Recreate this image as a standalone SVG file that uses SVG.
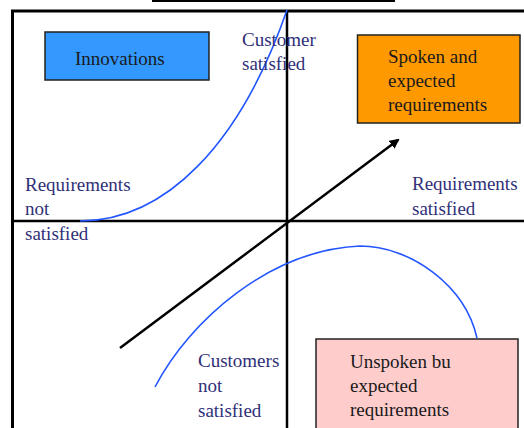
<svg xmlns="http://www.w3.org/2000/svg" width="524" height="428" viewBox="0 0 524 428">
<style>
.frame{stroke:#000;stroke-width:3;fill:none}
.axis{stroke:#000;stroke-width:2.5;fill:none}
.curve{stroke:#2255ff;stroke-width:1.6;fill:none}
.box{stroke:#222;stroke-width:1.5}
.lbl{font-family:"Liberation Serif",serif;font-size:19px;fill:#303078}
.btxt{font-family:"Liberation Serif",serif;font-size:19px;fill:#1a1a1a}
</style>
<defs>
<marker id="ah" markerWidth="10" markerHeight="10" refX="8" refY="5" orient="auto" markerUnits="userSpaceOnUse">
<path d="M0,0 L10,5 L0,10 Z" fill="#000"/>
</marker>
</defs>
<rect width="524" height="428" fill="#fff"/>
<line x1="152" y1="0.5" x2="395" y2="0.5" stroke="#000" stroke-width="3"/>
<path class="frame" d="M12.5,428 V11 H524"/>
<g id="connectors">
<line class="axis" x1="12" y1="221" x2="524" y2="221"/>
<line class="axis" x1="287" y1="11" x2="287" y2="428"/>
<line x1="120" y1="348" x2="398" y2="140" stroke="#000" stroke-width="2.5" marker-end="url(#ah)"/>
<path class="curve" d="M80,221 C165,221 240,145 287,10"/>
<path class="curve" d="M155,387 C190,320 270,250 360,246 C410,246 465,285 477,338"/>
</g>
<g id="innovations">
<rect class="box" x="45" y="32" width="164" height="48" fill="#3399ff"/>
<text class="btxt" x="75" y="65">Innovations</text>
</g>
<g id="spoken">
<rect class="box" x="357.5" y="35" width="162.5" height="88" fill="#ff9900"/>
<text class="btxt" x="388" y="63">Spoken and</text>
<text class="btxt" x="388" y="87">expected</text>
<text class="btxt" x="388" y="111">requirements</text>
</g>
<g id="unspoken">
<rect class="box" x="316" y="339" width="202" height="95" fill="#ffcccc"/>
<text class="btxt" x="350" y="368">Unspoken bu</text>
<text class="btxt" x="350" y="392">expected</text>
<text class="btxt" x="350" y="416">requirements</text>
</g>
<g id="cust-sat">
<text class="lbl" x="242" y="46">Customer</text>
<text class="lbl" x="242" y="70">satisfied</text>
</g>
<g id="req-not">
<text class="lbl" x="25" y="191">Requirements</text>
<text class="lbl" x="25" y="215">not</text>
<text class="lbl" x="25" y="240">satisfied</text>
</g>
<g id="req-sat">
<text class="lbl" x="412" y="190">Requirements</text>
<text class="lbl" x="412" y="215">satisfied</text>
</g>
<g id="cust-not">
<text class="lbl" x="198" y="367">Customers</text>
<text class="lbl" x="198" y="392">not</text>
<text class="lbl" x="198" y="417">satisfied</text>
</g>
</svg>
